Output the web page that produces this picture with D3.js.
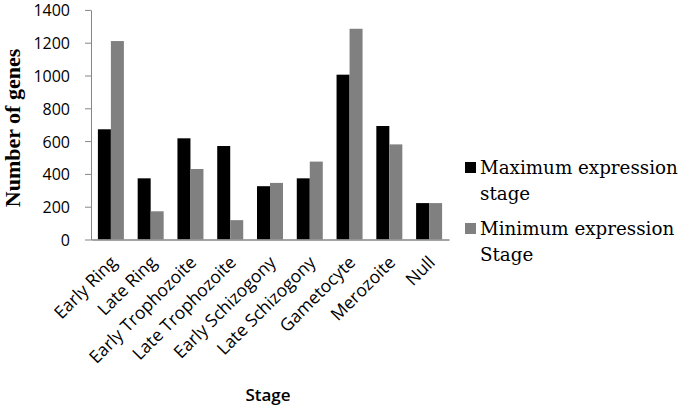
<!doctype html>
<html>

<head>
    <title> Genes by stage </title>
    <script src="https://d3js.org/d3.v7.min.js"> </script>
    <style>
        body { margin: 0; background: #fff; }
    </style>
</head>

<body>

    <div id = "chart"> </div>

    <script>

        // Data

        var stages = ["Early Ring", "Late Ring", "Early Trophozoite", "Late Trophozoite",
                      "Early Schizogony", "Late Schizogony", "Gametocyte", "Merozoite", "Null"];
        var maxStage = [672, 373, 617, 570, 325, 373, 1005, 692, 222];
        var minStage = [1210, 172, 430, 118, 345, 475, 1285, 580, 222];
        var seriesNames = ["Maximum expression stage", "Minimum expression Stage"];
        var yTicks = [0, 200, 400, 600, 800, 1000, 1200, 1400];

        const canvasWidth = 685;
        const canvasHeight = 408;
        var colors = ["#000000", "#808080"];

        var canvas = d3.select("#chart")
            .append("svg")
            .attr("width", canvasWidth)
            .attr("height", canvasHeight);

        var x0 = d3.scaleBand().domain(stages).range([91, 449]);
        var x1 = d3.scaleBand().domain([0, 1]).range([0, x0.step()]).paddingOuter(0.53);
        var y = d3.scaleLinear().domain([0, 1400]).range([239.5, 9.9]);

        var table = stages.map(function(s, i){ return {stage: s, vals: [maxStage[i], minStage[i]]}; });

        // bars
        var groups = canvas.selectAll("g.cat")
            .data(table)
            .enter()
            .append("g")
                .attr("class", "cat")
                .attr("transform", function(d){ return "translate(" + x0(d.stage) + ",0)"; });

        groups.selectAll("rect")
            .data(function(d){ return d.vals; })
            .enter()
            .append("rect")
                .attr("x", function(d, i){ return x1(i); })
                .attr("width", x1.bandwidth())
                .attr("y", function(d){ return y(d); })
                .attr("height", function(d){ return y(0) - y(d); })
                .attr("fill", function(d, i){ return colors[i]; });

        // y axis
        var yAxis = canvas.append("g")
            .attr("transform", "translate(91,0)")
            .call(d3.axisLeft(y).tickValues(yTicks).tickFormat(d3.format("d"))
                .tickSize(6).tickSizeOuter(0).tickPadding(15));
        yAxis.select(".domain").attr("stroke", "#868686");
        yAxis.selectAll(".tick line").attr("stroke", "#868686");
        yAxis.selectAll("text")
            .attr("font-family", "Open Sans")
            .attr("font-size", 16)
            .attr("dy", "0.37em")
            .attr("fill", "#000");

        // x axis
        var xAxis = canvas.append("g")
            .attr("transform", "translate(0," + y(0) + ")")
            .call(d3.axisBottom(x0).tickSize(0).tickPadding(0));
        xAxis.select(".domain").attr("stroke", "#868686").attr("stroke-width", 1.5);
        xAxis.selectAll("text")
            .attr("font-family", "Open Sans")
            .attr("font-size", 17.5)
            .attr("fill", "#000")
            .attr("text-anchor", "end")
            .attr("dy", 0)
            .attr("transform", "translate(7,24) rotate(-45)");

        // axis titles
        canvas.append("text")
            .attr("transform", "translate(20,128) rotate(-90)")
            .attr("text-anchor", "middle")
            .attr("font-family", "Liberation Serif")
            .attr("font-weight", "bold")
            .attr("font-size", 22)
            .text("Number of genes");

        canvas.append("text")
            .attr("x", 268)
            .attr("y", 401)
            .attr("text-anchor", "middle")
            .attr("font-family", "Open Sans")
            .attr("font-weight", 600)
            .attr("font-size", 17)
            .text("Stage");

        // legend
        var legendLines = [["Maximum expression", "stage"], ["Minimum expression", "Stage"]];
        var legend = canvas.selectAll("g.legend")
            .data(legendLines)
            .enter()
            .append("g")
                .attr("class", "legend")
                .attr("transform", function(d, i){ return "translate(465," + (162 + i*61) + ")"; });

        legend.append("rect")
            .attr("width", 11)
            .attr("height", 11)
            .attr("fill", function(d, i){ return colors[i]; });

        legend.append("text")
            .attr("x", 15)
            .attr("y", 12)
            .attr("font-family", "DejaVu Serif")
            .attr("font-size", 18.3)
            .selectAll("tspan")
            .data(function(d){ return d; })
            .enter()
            .append("tspan")
                .attr("x", 15)
                .attr("dy", function(d, i){ return i == 0 ? 0 : 26; })
                .text(function(d){ return d; });

    </script>

</body>

</html>
